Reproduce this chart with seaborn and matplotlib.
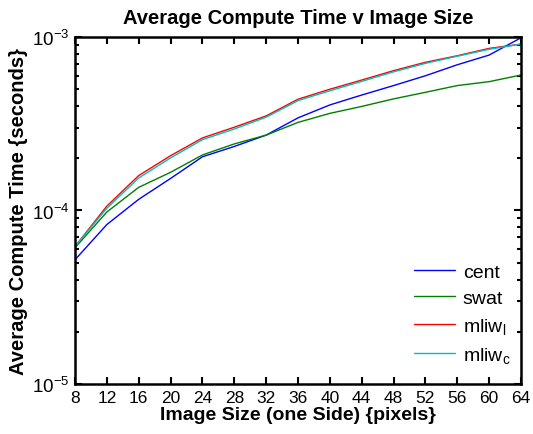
import numpy as np
import pandas as pd
import matplotlib
matplotlib.use("Agg")
import matplotlib.pyplot as plt
import seaborn as sns

sizes = [8, 12, 16, 20, 24, 28, 32, 36, 40, 44, 48, 52, 56, 60, 64]
cent = [5.2e-5, 8.3e-5, 1.16e-4, 1.53e-4, 2.04e-4, 2.34e-4, 2.72e-4, 3.42e-4,
        4.06e-4, 4.63e-4, 5.25e-4, 5.98e-4, 6.92e-4, 7.87e-4, 9.9e-4]
swat = [6.1e-5, 9.8e-5, 1.36e-4, 1.66e-4, 2.09e-4, 2.42e-4, 2.72e-4, 3.22e-4,
        3.63e-4, 3.98e-4, 4.4e-4, 4.8e-4, 5.25e-4, 5.53e-4, 6.04e-4]
mliw_l = [6.2e-5, 1.06e-4, 1.59e-4, 2.07e-4, 2.62e-4, 3.02e-4, 3.51e-4, 4.38e-4,
          5.0e-4, 5.65e-4, 6.4e-4, 7.15e-4, 7.8e-4, 8.6e-4, 9.1e-4]
mliw_c = [6.2e-5, 1.03e-4, 1.54e-4, 2.01e-4, 2.56e-4, 2.95e-4, 3.45e-4, 4.3e-4,
          4.9e-4, 5.55e-4, 6.3e-4, 7.05e-4, 7.75e-4, 8.5e-4, 9.1e-4]
series_names = ["cent", "swat", "mliw$_\\mathregular{l}$", "mliw$_\\mathregular{c}$"]
colors = ["#0000ff", "#008000", "#ff0000", "#00bfbf"]

df = pd.DataFrame({
    "size": sizes * 4,
    "time": cent + swat + mliw_l + mliw_c,
    "method": sum([[n] * len(sizes) for n in series_names], []),
})

sns.set_style("white")
plt.rcParams["font.family"] = ["Liberation Sans", "DejaVu Sans"]
plt.rcParams["mathtext.fontset"] = "custom"
plt.rcParams["mathtext.rm"] = "Liberation Sans"
plt.rcParams["mathtext.default"] = "regular"
plt.rcParams["text.color"] = "black"
plt.rcParams["axes.labelcolor"] = "black"
plt.rcParams["xtick.color"] = "black"
plt.rcParams["ytick.color"] = "black"

fig = plt.figure(figsize=(5.33, 4.35), dpi=100)
ax = fig.add_axes([0.1407, 0.115, 0.8368, 0.7976])

sns.lineplot(data=df, x="size", y="time", hue="method", palette=colors,
             hue_order=series_names, linewidth=1.0, ax=ax)

ax.set_yscale("log")
ax.set_xlim(8, 64)
ax.set_ylim(1e-5, 1e-3)
ax.set_xticks(sizes)
ax.set_xticklabels([str(s) for s in sizes], fontsize=12.5)
ax.set_yticks([1e-5, 1e-4, 1e-3])
ax.set_yticklabels(["$10^{-5}$", "$10^{-4}$", "$10^{-3}$"], fontsize=13.5)
ax.tick_params(which="both", direction="in", top=True, right=True, left=True,
               bottom=True, color="black", labelcolor="black")
ax.tick_params(which="major", length=5, width=1.5, pad=4)
ax.tick_params(which="minor", length=3, width=1.5)
ax.tick_params(axis="x", which="minor", top=False, bottom=False)
for sp in ax.spines.values():
    sp.set_visible(True)
    sp.set_color("black")
    sp.set_linewidth(1.8)

ax.set_title("Average Compute Time v Image Size", fontsize=14.5, fontweight="bold",
             pad=10, color="black")
ax.set_xlabel("Image Size (one Side) {pixels}", fontsize=14, fontweight="bold",
              labelpad=1, color="black")
ax.set_ylabel("Average Compute Time {seconds}", fontsize=14.5, fontweight="bold",
              labelpad=3, color="black")

leg = ax.legend(loc="lower right", frameon=False, fontsize=14, handlelength=2.1,
                handletextpad=0.4, labelspacing=0.45, bbox_to_anchor=(1.02, 0.0),
                borderaxespad=0.6)
for line in leg.get_lines():
    line.set_linewidth(1.0)

fig.savefig("out.png", dpi=100)
